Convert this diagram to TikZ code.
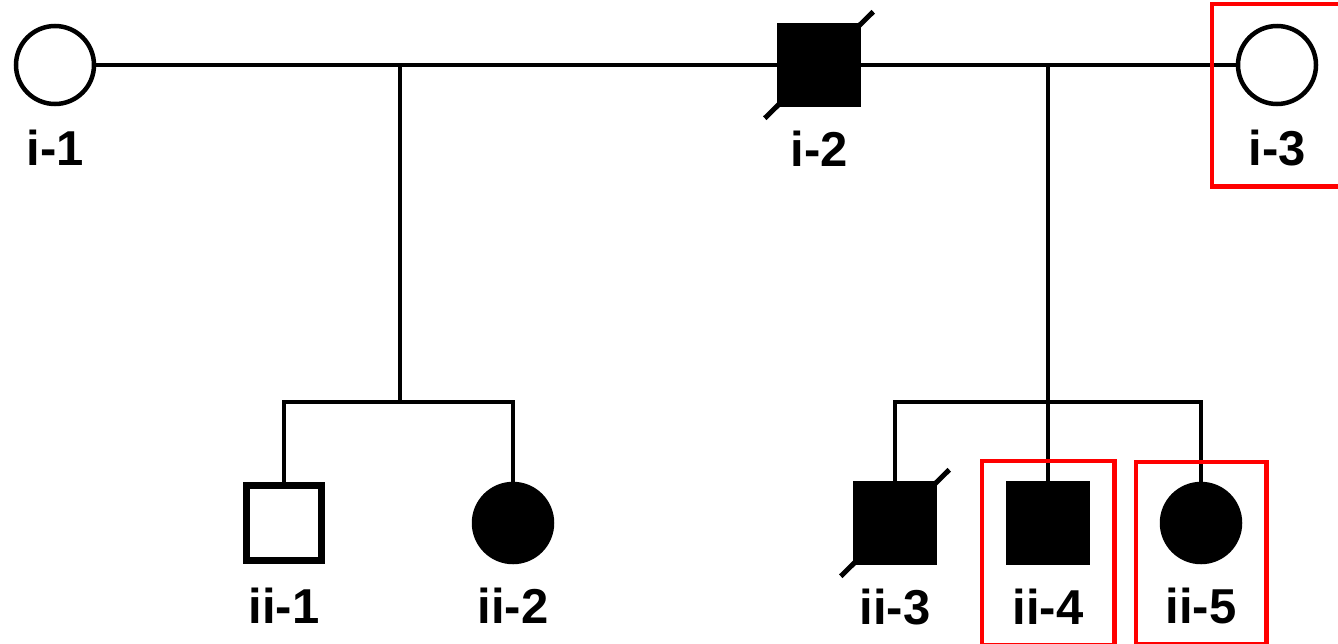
\documentclass[tikz,border=0pt]{standalone}
\usepackage{fontspec}
\setmainfont{Liberation Sans}
\usetikzlibrary{positioning,fit,calc}

\tikzset{
  male/.style={draw, rectangle, minimum size=80pt, line width=4.5pt, inner sep=0pt},
  female/.style={draw, circle, minimum size=78pt, line width=4.5pt, inner sep=0pt},
  affected/.style={fill=black},
  tag/.style={font=\bfseries\fontsize{49}{49}\selectfont, inner sep=0pt},
  link/.style={line width=4.5pt},
  deceased/.style={line width=5pt},
  hilite/.style={draw=red, line width=4.5pt, inner xsep=24pt, inner ysep=20pt},
}

\begin{document}
\begin{tikzpicture}[x=1pt, y=-1pt]
  \clip (0,0) rectangle (1338,643);

  % generation i
  \node[female] (i1) at (55,65) {};
  \node[male, affected] (i2) at (819,65) {};
  \node[female] (i3) at (1277,65) {};

  % generation ii
  \node[male, line width=7pt, minimum size=75pt] (ii1) at (284,523) {};
  \node[female, affected] (ii2) at (513,523) {};
  \node[male, affected] (ii3) at (895,523) {};
  \node[male, affected] (ii4) at (1048,523) {};
  \node[female, affected] (ii5) at (1201,523) {};

  % labels
  \node[tag, below=24pt of i1] (i1lbl) {i-1};
  \node[tag, below=24pt of i2] (i2lbl) {i-2};
  \node[tag, below=24pt of i3] (i3lbl) {i-3};
  \node[tag, below=24pt of ii1] (ii1lbl) {ii-1};
  \node[tag, below=24pt of ii2] (ii2lbl) {ii-2};
  \node[tag, below=24pt of ii3] (ii3lbl) {ii-3};
  \node[tag, below=24pt of ii4] (ii4lbl) {ii-4};
  \node[tag, below=24pt of ii5] (ii5lbl) {ii-5};

  % marriages and sibships
  \coordinate (m1) at (400,65);
  \coordinate (s1) at (400,402);
  \coordinate (m2) at (1048,65);
  \coordinate (s2) at (1048,402);
  \draw[link] (i1.east) -- (i2.west);
  \draw[link] (i2.east) -- (i3.west);
  \draw[link] (m1) -- (s1);
  \draw[link] (ii1.north) |- (s1) -| (ii2.north);
  \draw[link] (m2) -- (ii4.north);
  \draw[link] (ii3.north) |- (s2) -| (ii5.north);

  % deceased
  \draw[deceased] ($(i2.south west)+(-12,11)$) -- ($(i2.north east)+(12,-11)$);
  \draw[deceased] ($(ii3.south west)+(-12,11)$) -- ($(ii3.north east)+(12,-11)$);

  % highlighted individuals
  \node[hilite, fit=(i3)(i3lbl)] (box1) {};
  \node[hilite, fit=(ii4)(ii4lbl)] (box2) {};
  \node[hilite, fit=(ii5)(ii5lbl)] (box3) {};
\end{tikzpicture}
\end{document}
